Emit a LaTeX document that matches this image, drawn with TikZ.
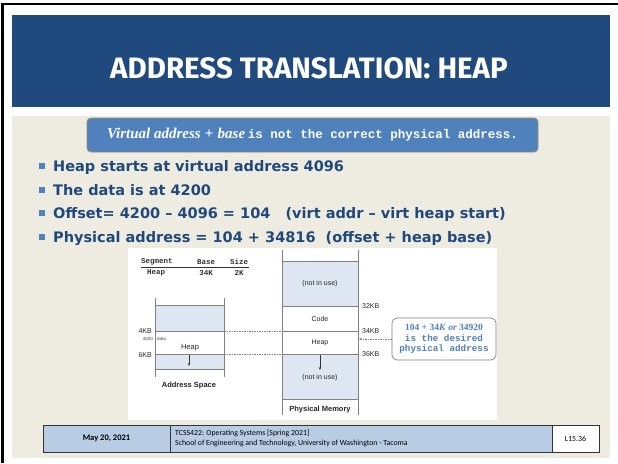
\documentclass[tikz,border=0pt]{standalone}
\usepackage{fontspec}
\setmainfont{Liberation Sans}
\newfontfamily\titlefont{Fira Sans}
\newfontfamily\bulletfont{DejaVu Sans}
\newfontfamily\monofont{Liberation Mono}
\newfontfamily\seriffont{Liberation Serif}
\newfontfamily\footfont{Carlito}
\usetikzlibrary{arrows.meta}

\definecolor{banner}{HTML}{204A7D}
\definecolor{paper}{HTML}{EEECE1}
\definecolor{calloutblue}{HTML}{4F81BD}
\definecolor{calloutedge}{HTML}{A5876A}
\definecolor{bullettext}{HTML}{1F497D}
\definecolor{footfill}{HTML}{B8CCE4}
\definecolor{unusedfill}{HTML}{DEE7F1}
\definecolor{figline}{HTML}{808080}
\definecolor{notetext}{HTML}{4F81BD}

\tikzset{
  bulletline/.style={anchor=base west, inner sep=0pt, text=bullettext,
    font=\bulletfont\bfseries\fontsize{14.5}{16}\selectfont},
  bulletsq/.style={fill=calloutblue, minimum size=6pt, inner sep=0pt},
  memline/.style={draw=figline, line width=0.7pt},
  figtext/.style={inner sep=0pt, font=\fontsize{7}{8}\selectfont, text=black!85},
  figbold/.style={inner sep=0pt, font=\bfseries\fontsize{7.5}{9}\selectfont, text=black!85},
  kblabel/.style={figtext, anchor=west},
  tabtext/.style={inner sep=0pt, font=\monofont\bfseries\fontsize{7.5}{8}\selectfont, text=black!80},
  gapline/.style={draw=figline, line width=0.6pt, dash pattern=on 1.5pt off 1pt},
  growarrow/.style={black!80, line width=0.5pt, -{Stealth[length=3pt,width=2.5pt]}},
  footcell/.style={draw=black!80, line width=0.8pt},
}

\begin{document}
\begin{tikzpicture}[x=1pt,y=-1pt]
\useasboundingbox (0,0) rectangle (618,463);
\fill[white] (0,0) rectangle (618,463);

% slide frame
\draw[line width=2.5pt] (2.5,463) -- (2.5,4) -- (618,4);

% title banner
\fill[banner] (12,15) rectangle (610,107);
\node (title) at (309,68) [text=white, font=\titlefont\bfseries\fontsize{29.5}{34}\selectfont]
  {ADDRESS TRANSLATION: HEAP};

% content background
\fill[paper] (12,116) rectangle (610,458);

% warning callout
\node (warn) at (312.5,135) [rounded corners=4pt, fill=calloutblue, draw=calloutedge,
  line width=0.8pt, minimum width=451pt, minimum height=34pt, text=white, inner sep=0pt]
  {{\seriffont\bfseries\itshape\fontsize{15}{16}\selectfont Virtual address}%
   {\seriffont\bfseries\fontsize{15}{16}\selectfont\;+\;}%
   {\seriffont\bfseries\itshape\fontsize{15}{16}\selectfont base}
   {\monofont\bfseries\fontsize{12.5}{14}\selectfont is not the correct physical address.}};

% bullet list
\node[bulletsq] (b1) at (42,166) {};
\node[bulletline] (t1) at (53,171.5) {Heap starts at virtual address 4096};
\node[bulletsq] (b2) at (42,189.5) {};
\node[bulletline] (t2) at (53,195) {The data is at 4200};
\node[bulletsq] (b3) at (42,213) {};
\node[bulletline] (t3) at (53,218.5) {Offset= 4200 – 4096 = 104~~ (virt addr – virt heap start)};
\node[bulletsq] (b4) at (42,236.5) {};
\node[bulletline] (t4) at (53,242) {Physical address = 104 + 34816~ (offset + heap base)};

% figure panel
\fill[white] (128,248) rectangle (497,420);

% segment table
\node[tabtext, anchor=west] (hseg) at (141,262) {Segment};
\node[tabtext] (hbase) at (206,262) {Base};
\node[tabtext] (hsize) at (239,262) {Size};
\draw[black!80, line width=0.6pt] (141,267) -- (249,267);
\node[tabtext] (rseg) at (156,273) {Heap};
\node[tabtext] (rbase) at (206,273) {34K};
\node[tabtext] (rsize) at (239,273) {2K};

% address space
\fill[unusedfill] (155,305) rectangle (224,331);
\fill[unusedfill] (155,354) rectangle (224,369);
\draw[memline] (155,298) -- (155,377);
\draw[memline] (224,298) -- (224,377);
\foreach \yy in {305,331,354,369} \draw[memline] (155,\yy) -- (224,\yy);
\coordinate (as4) at (224,331);
\coordinate (as6) at (224,354);
\node[figtext, anchor=east] (l4kb) at (152,331) {4KB};
\node[figtext, anchor=east] (l6kb) at (152,355) {6KB};
\node[inner sep=0pt, anchor=east, font=\fontsize{4.5}{5}\selectfont, text=black!75] (l4200) at (153,339) {4200};
\node[inner sep=0pt, anchor=west, font=\fontsize{4.5}{5}\selectfont, text=black!75] (ldata) at (157,339) {data};
\node[figtext, font=\fontsize{7.5}{8}\selectfont] (asheap) at (190,348) {Heap};
\coordinate (asgrowa) at (189,355);
\coordinate (asgrowb) at (189,366);
\draw[growarrow] (asgrowa) -- (asgrowb);
\node[figbold] (aslabel) at (189,386) {Address Space};

% physical memory
\fill[unusedfill] (282,261) rectangle (358,306);
\fill[unusedfill] (282,354) rectangle (358,399);
\draw[memline] (282,250) -- (282,415);
\draw[memline] (358,250) -- (358,415);
\foreach \yy in {261,306,331,354,399} \draw[memline] (282,\yy) -- (358,\yy);
\coordinate (pm34) at (282,331);
\coordinate (pm36) at (282,354);
\node[figtext] (nu1) at (320,284) {(not in use)};
\node[figtext] (code) at (320,318.5) {Code};
\node[figtext] (pmheap) at (320,342.5) {Heap};
\node[figtext] (nu2) at (320,377.5) {(not in use)};
\coordinate (pmgrowa) at (320,355);
\coordinate (pmgrowb) at (320,370);
\draw[growarrow] (pmgrowa) -- (pmgrowb);
\node[figbold] (pmlabel) at (320,410) {Physical Memory};
\node[kblabel] (k32) at (362,306) {32KB};
\node[kblabel] (k34) at (362,331) {34KB};
\node[kblabel] (k36) at (362,354) {36KB};

% heap boundaries carried across
\draw[gapline] (as4) -- (pm34);
\draw[gapline] (as6) -- (pm36);

% result note
\node (note) at (444,339) [draw=figline, rounded corners=5pt, line width=0.7pt, fill=white,
  minimum width=104pt, minimum height=42pt, inner sep=0pt, align=center, text=notetext]
  {{\seriffont\bfseries\fontsize{9.5}{11}\selectfont 104 + 34\textit{K} \textit{or} 34920}\\[-1.5pt]
   {\monofont\bfseries\fontsize{9.3}{11}\selectfont is the desired}\\[-1.5pt]
   {\monofont\bfseries\fontsize{9.3}{11}\selectfont physical address}};
\coordinate (heapedge) at (359,339);
\draw[gapline, -{Stealth[length=3pt,width=2.5pt]}] (note.west) -- (heapedge);

% footer
\node[footcell, fill=footfill, minimum width=127pt, minimum height=27pt, inner sep=0pt,
  font=\footfont\bfseries\fontsize{8.5}{9}\selectfont] (fdate) at (106.5,438.5) {May 20, 2021};
\node[footcell, fill=footfill, minimum width=382pt, minimum height=27pt, inner sep=0pt] (fcourse) at (361,438.5) {};
\node[inner sep=0pt, anchor=west, align=left, font=\footfont\fontsize{7.8}{9.5}\selectfont] (fcoursetext) at (175,438.5)
  {TCSS422: Operating Systems [Spring 2021]\\School of Engineering and Technology, University of Washington - Tacoma};
\node[footcell, fill=white, minimum width=47pt, minimum height=27pt, inner sep=0pt,
  font=\footfont\fontsize{7.8}{9}\selectfont] (fslide) at (575.5,438.5) {L15.36};
\end{tikzpicture}
\end{document}
